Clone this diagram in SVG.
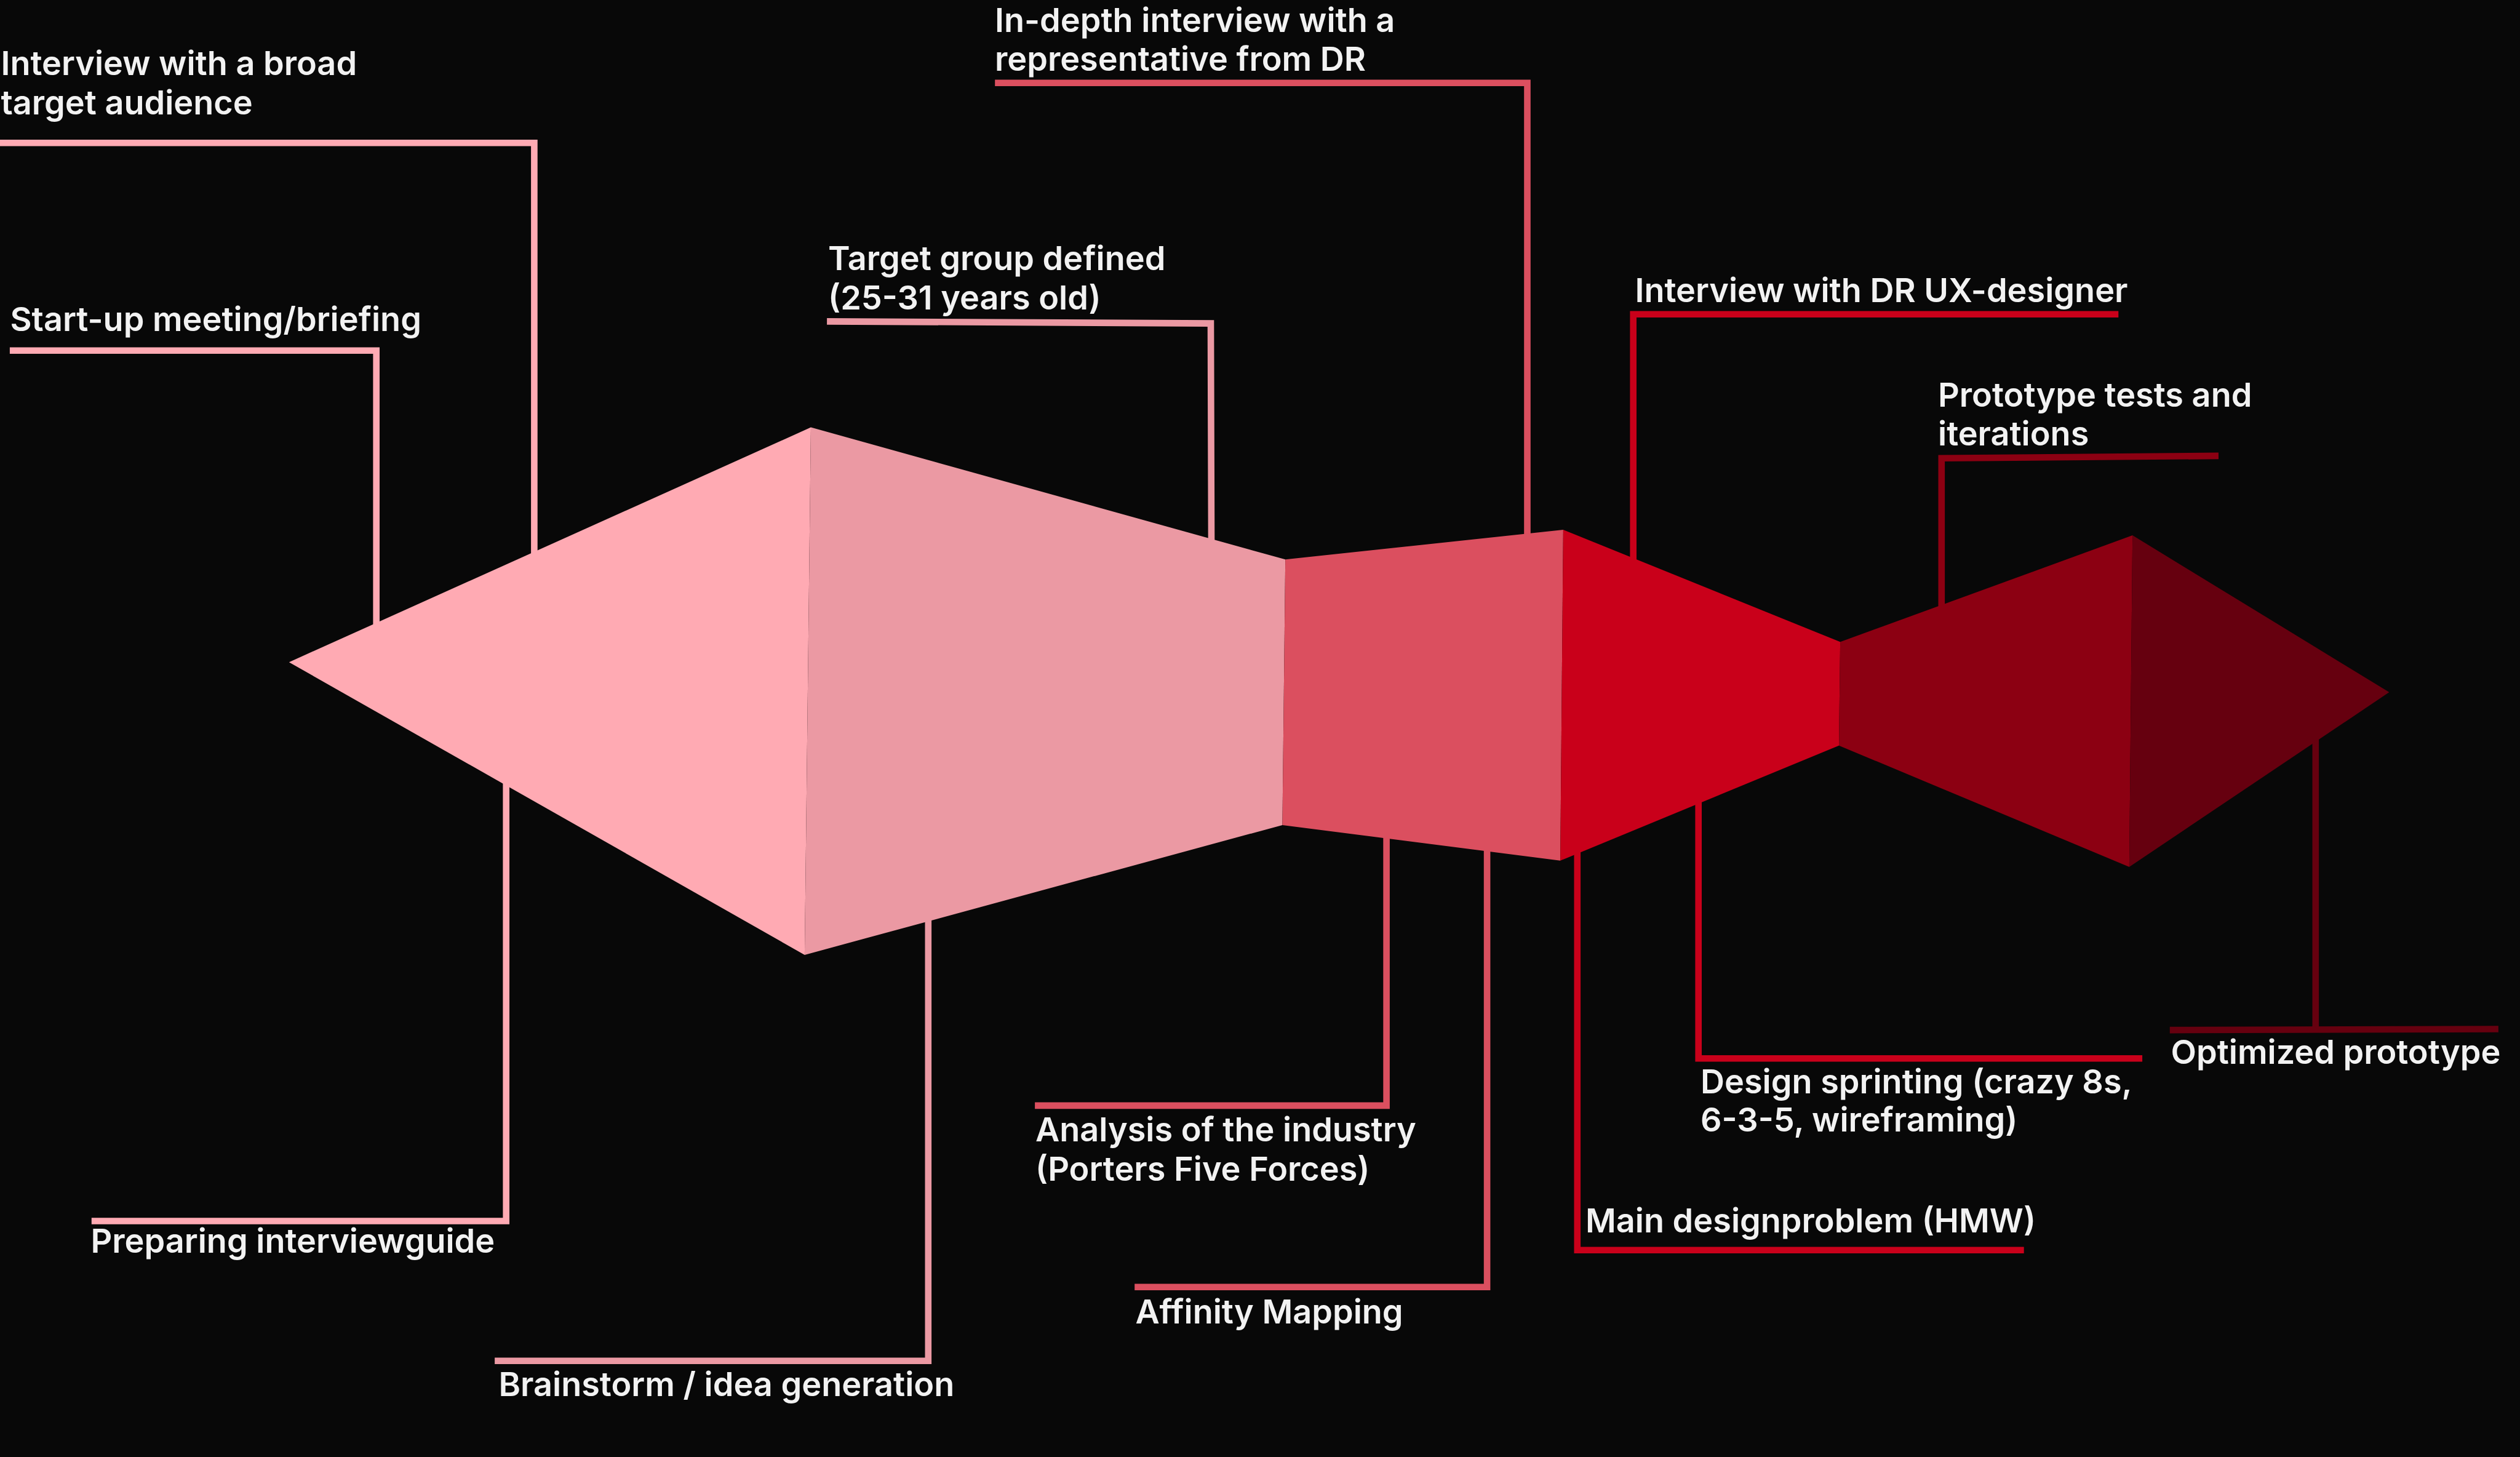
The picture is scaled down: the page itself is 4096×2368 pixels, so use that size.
<svg xmlns="http://www.w3.org/2000/svg" width="4096" height="2368" viewBox="0 0 4096 2368">
<style>
.t{font-family:Inter,"Noto Sans","Liberation Sans",sans-serif;font-weight:600;font-size:54px;fill:#F2F2F2}
.c{fill:none;stroke-width:10.6;stroke-linejoin:miter;stroke-linecap:butt}
.c1{stroke:#FFAAB3}.c2{stroke:#EB99A3}.c3{stroke:#DB4F5F}.c4{stroke:#C9001A}.c5{stroke:#8C0012}.c6{stroke:#66000F}
</style>
<rect width="4096" height="2368" fill="#080808"/>
<g id="connectors">
<path class="c c1" d="M0,232.2 H868.4 V905"/>
<path class="c c1" d="M15.9,569.7 H611.7 V1020"/>
<path class="c c1" d="M148.8,1984.5 H822.7 V1270"/>
<path class="c c2" d="M1344.1,522.4 L1968,525.6 L1969,882"/>
<path class="c c2" d="M804.1,2211.7 H1508.8 V1490"/>
<path class="c c3" d="M1617.2,134.7 H2482.5 V872"/>
<path class="c c3" d="M1682.1,1796.9 H2253.6 V1355"/>
<path class="c c3" d="M1844.2,2091.8 H2417.1 V1376"/>
<path class="c c4" d="M3443.3,510.7 H2654.7 V912"/>
<path class="c c4" d="M3289.7,2031.8 H2563.8 V1380"/>
<path class="c c4" d="M3482.1,1720.3 H2760.7 V1300"/>
<path class="c c5" d="M3606,740.9 L3155.8,744.8 V990"/>
<path class="c c6" d="M3526.8,1674.1 L4060.9,1672.5 M3763.8,1673 V1198"/>
</g>
<g id="stage1"><polygon points="469.8,1076.2 1318,694.6 1307.9,1551.9" fill="#FFAAB3"/></g>
<g id="stage2"><polygon points="1318,694.6 2089.2,909.3 2084.4,1340.9 1307.9,1551.9" fill="#EB99A3"/></g>
<g id="stage3"><polygon points="2089.2,909.3 2540.9,861 2536.1,1398.8 2084.4,1340.9" fill="#DB4F5F"/></g>
<g id="stage4"><polygon points="2540.9,861 2991.1,1043.3 2989,1211.7 2536.1,1398.8" fill="#C9001A"/></g>
<g id="stage5"><polygon points="2991.1,1043.3 3466.2,870 3460.9,1408.9 2989,1211.7" fill="#8C0012"/></g>
<g id="stage6"><polygon points="3466.2,870 3883.4,1125.1 3460.9,1408.9" fill="#66000F"/></g>
<g id="labels">
<g id="l-broad"><text class="t" x="1.5" y="122.2">Interview with a broad</text><text class="t" x="1.5" y="186">target audience</text></g>
<g id="l-startup"><text class="t" x="16.5" y="538.4">Start-up meeting/briefing</text></g>
<g id="l-target"><text class="t" x="1346" y="439">Target group defined</text><text class="t" x="1346" y="503.3">(25-31 years old)</text></g>
<g id="l-indepth"><text class="t" x="1617" y="51.6">In-depth interview with a</text><text class="t" x="1617" y="115.3">representative from DR</text></g>
<g id="l-drux"><text class="t" x="2657.5" y="491">Interview with DR UX-designer</text></g>
<g id="l-proto"><text class="t" x="3150" y="660.6">Prototype tests and</text><text class="t" x="3150" y="724.1">iterations</text></g>
<g id="l-optimized"><text class="t" x="3528.5" y="1729.4">Optimized prototype</text></g>
<g id="l-preparing"><text class="t" x="147.5" y="2036">Preparing interviewguide</text></g>
<g id="l-brainstorm"><text class="t" x="810.5" y="2269.3">Brainstorm / idea generation</text></g>
<g id="l-analysis"><text class="t" x="1683" y="1855.3">Analysis of the industry</text><text class="t" x="1683" y="1919.4">(Porters Five Forces)</text></g>
<g id="l-affinity"><text class="t" x="1845.5" y="2150.8">Affinity Mapping</text></g>
<g id="l-hmw"><text class="t" x="2577" y="2002.5">Main designproblem (HMW)</text></g>
<g id="l-sprint"><text class="t" x="2764" y="1777.2">Design sprinting (crazy 8s,</text><text class="t" x="2764" y="1838.9">6-3-5, wireframing)</text></g>
</g>
</svg>
